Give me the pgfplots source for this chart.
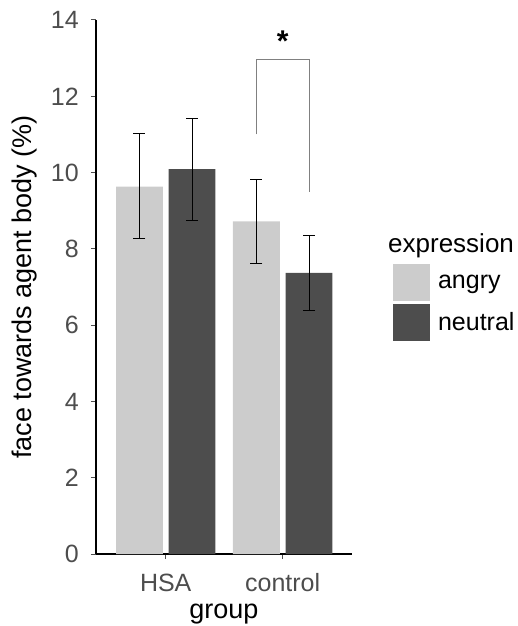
\documentclass[border=0pt]{standalone}
\usepackage{pgfplots}
\usepackage{pgfplotstable}
\pgfplotsset{compat=1.18}
\usepackage{fontspec}
\setmainfont{Liberation Sans}
\definecolor{lightbar}{HTML}{CCCCCC}
\definecolor{darkbar}{HTML}{4D4D4D}
\definecolor{ticklab}{HTML}{4D4D4D}
\definecolor{brack}{HTML}{808080}

\pgfplotstableread{
x   y     up    down
1   9.63  1.39  1.37
2   8.72  1.11  1.11
}\angrydata
\pgfplotstableread{
x   y     up    down
1   10.09 1.34  1.34
2   7.37  0.99  0.98
}\neutraldata

\begin{document}
\begin{tikzpicture}
\begin{axis}[
  at={(0,0)}, anchor=south west,
  scale only axis,
  width=255.7pt, height=534pt,
  xmin=0.404, xmax=2.59,
  ymin=0, ymax=14,
  axis x line*=bottom, axis y line*=left,
  axis line style={black, line width=1.6pt, -},
  xtick={1,2}, xticklabels={HSA,control},
  ytick={0,2,4,6,8,10,12,14},
  tick align=outside,
  major tick length=5pt,
  tick style={color=ticklab, line width=1pt},
  /pgf/number format/assume math mode=true,
  ticklabel style={font=\fontsize{25}{30}\selectfont, text=ticklab, inner sep=0pt},
  yticklabel style={anchor=east, xshift=-12pt},
  xticklabel style={anchor=base, yshift=-32pt},
  xlabel={group}, ylabel={face towards agent body (\%)},
  label style={font=\fontsize{27}{32}\selectfont, inner sep=0pt},
  xlabel style={at={(axis description cs:0.5,0)}, anchor=base, yshift=-64pt},
  ylabel style={at={(axis description cs:-0.2503,0.5)}, anchor=base},
  legend style={at={(axis cs:2.942,7.6)}, anchor=north west, draw=none, fill=none,
     font=\fontsize{25}{30}\selectfont, row sep=2.5pt, inner sep=0pt,
     nodes={inner sep=0pt, anchor=west}},
  legend image code/.code={\fill[#1] (0pt,-18.5pt) rectangle (37pt,18.5pt); \path (45pt,0pt);},
  legend cell align=left,
  clip=false,
]
\addplot[ybar, bar width=0.4, bar shift=-0.225, fill=lightbar, draw=none]
  table[x=x, y=y]{\angrydata};
\addlegendentry{angry}
\addplot[ybar, bar width=0.4, bar shift=0.225, fill=darkbar, draw=none]
  table[x=x, y=y]{\neutraldata};
\addlegendentry{neutral}
\addplot[draw=none, mark=none, forget plot,
  error bars/.cd, y dir=both, y explicit,
  error bar style={draw=black, line width=1pt},
  error mark options={rotate=90, mark size=6pt, line width=1pt, draw=black}]
  table[x expr=\thisrow{x}-0.225, y=y, y error plus=up, y error minus=down]{\angrydata};
\addplot[draw=none, mark=none, forget plot,
  error bars/.cd, y dir=both, y explicit,
  error bar style={draw=black, line width=1pt},
  error mark options={rotate=90, mark size=6pt, line width=1pt, draw=black}]
  table[x expr=\thisrow{x}+0.225, y=y, y error plus=up, y error minus=down]{\neutraldata};
\addplot[brack, line width=1pt, forget plot] coordinates {(1.775,11.0) (1.775,12.97) (2.225,12.97) (2.225,9.5)};
\node[font=\bfseries\fontsize{30}{30}\selectfont] at (axis cs:2,13.45) {*};
\end{axis}
\node[anchor=base west, font=\fontsize{26}{30}\selectfont, inner sep=0pt] at (292pt,301pt) {expression};
\pgfresetboundingbox
\path (-96pt,-72pt) rectangle (421pt,554pt);
\end{tikzpicture}
\end{document}
